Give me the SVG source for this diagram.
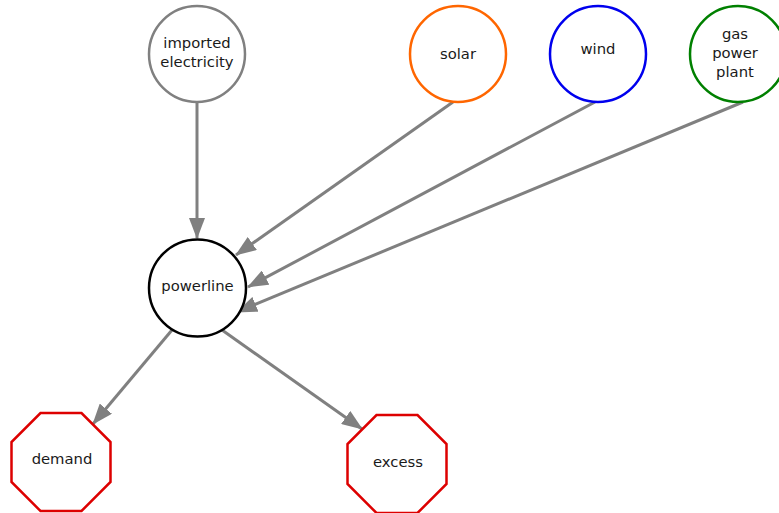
<svg xmlns="http://www.w3.org/2000/svg" width="779" height="513" viewBox="0 0 779 513">
<style>
.n{fill:#fff;stroke-width:2.5}
.t{font-family:"DejaVu Sans",Verdana,sans-serif;font-size:14.8px;fill:#1a1a1a;text-anchor:middle}
.e{stroke:#808080;stroke-width:3;fill:none;marker-end:url(#a)}
</style>
<defs>
<marker id="a" markerUnits="userSpaceOnUse" markerWidth="21" markerHeight="16" viewBox="0 0 21 16" refX="20" refY="8" orient="auto">
<path d="M0,0 L21,8 L0,16 Z" fill="#808080"/>
</marker>
</defs>
<rect width="779" height="513" fill="#fff"/>
<g id="edges">
<line class="e" x1="197" y1="102" x2="197" y2="238"/>
<line class="e" x1="453" y1="102" x2="236" y2="255"/>
<line class="e" x1="595" y1="102" x2="248" y2="287"/>
<line class="e" x1="743" y1="102" x2="237" y2="312"/>
<line class="e" x1="172" y1="330" x2="93" y2="424"/>
<line class="e" x1="222" y1="330" x2="362" y2="429"/>
</g>
<g id="imported">
<circle class="n" cx="197" cy="54" r="48" stroke="#808080"/>
<text class="t" x="197" y="48">imported</text>
<text class="t" x="197" y="67">electricity</text>
</g>
<g id="solar">
<circle class="n" cx="458" cy="54" r="48" stroke="#ff6600"/>
<text class="t" x="458" y="59">solar</text>
</g>
<g id="wind">
<circle class="n" cx="598" cy="54" r="48" stroke="#0000ee"/>
<text class="t" x="598" y="54">wind</text>
</g>
<g id="gas">
<circle class="n" cx="738" cy="54" r="48" stroke="#008000"/>
<text class="t" x="735" y="39">gas</text>
<text class="t" x="735" y="58">power</text>
<text class="t" x="735" y="77">plant</text>
</g>
<g id="powerline">
<circle class="n" cx="197.5" cy="288" r="48.5" stroke="#000"/>
<text class="t" x="197.5" y="291">powerline</text>
</g>
<g id="demand">
<polygon class="n" stroke="#dd0000" points="40.5,413 81.5,413 110.5,442 110.5,482 81.5,511 40.5,511 11.5,482 11.5,442"/>
<text class="t" x="62" y="464">demand</text>
</g>
<g id="excess">
<polygon class="n" stroke="#dd0000" points="376.5,415 417.5,415 446.5,444 446.5,484 417.5,513 376.5,513 347.5,484 347.5,444"/>
<text class="t" x="398" y="467">excess</text>
</g>
</svg>
